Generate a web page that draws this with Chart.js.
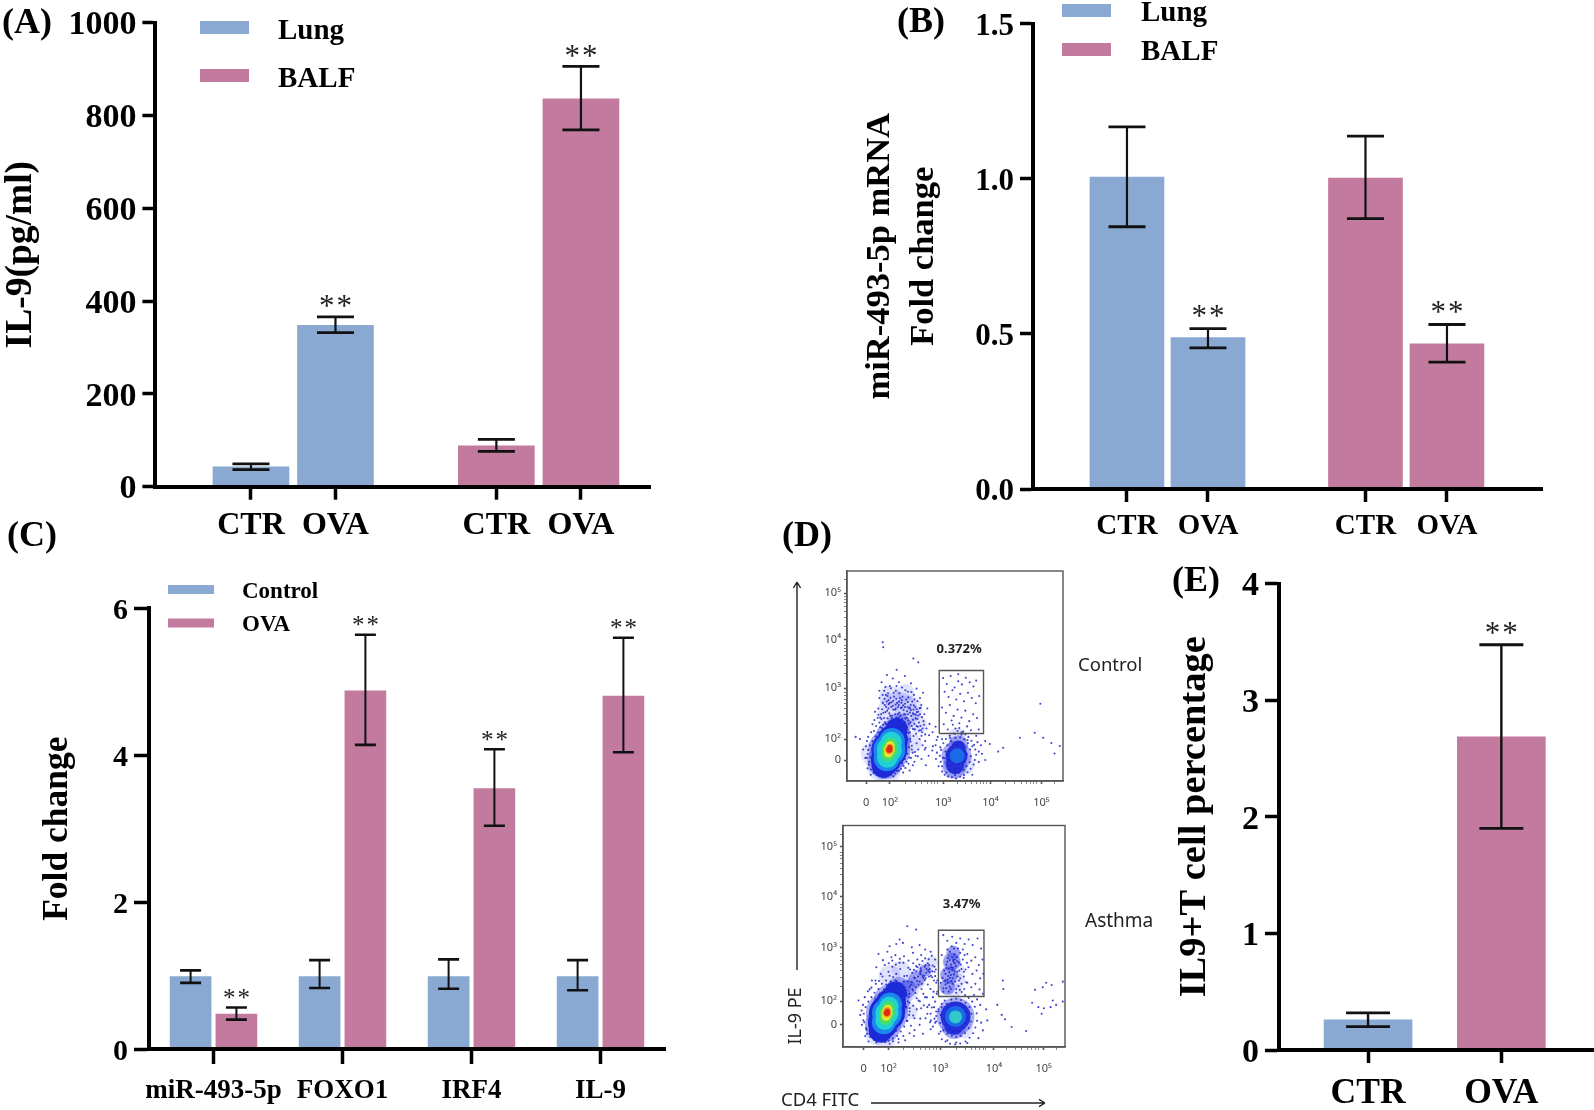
<!DOCTYPE html>
<html><head><meta charset="utf-8">
<script src="https://cdn.jsdelivr.net/npm/chart.js@4"></script>
<style>
html,body{margin:0;padding:0;background:#fff;overflow:hidden;height:1110px}
#wrap{position:relative;width:1594px;height:1110px;overflow:hidden;filter:blur(0.5px)}
canvas{position:absolute;left:0;top:0}
</style></head><body><div id="wrap">
<canvas id="a" width="1594" height="1200"></canvas>
<canvas id="b" width="1594" height="1200"></canvas>
<canvas id="c" width="1594" height="1200"></canvas>
<canvas id="d1" width="1594" height="1200"></canvas>
<canvas id="d2" width="1594" height="1200"></canvas>
<canvas id="e" width="1594" height="1200"></canvas>
</div>
<script>
/* ---------- data ---------- */
const groupLabels = ['CTR','OVA'];
// Panel A  IL-9 (pg/ml)
const aLung = [43,348],  aLungHigh = [49,366],  aLungLow = [37,332];
const aBalf = [88,836],  aBalfHigh = [102,906], aBalfLow = [76,769];
// Panel B  miR-493-5p
const bLung = [1.005,0.488], bLungHigh = [1.167,0.517], bLungLow = [0.845,0.455];
const bBalf = [1.002,0.468], bBalfHigh = [1.137,0.530], bBalfLow = [0.871,0.409];
// Panel C  Fold change
const cCategories = ['miR-493-5p','FOXO1','IRF4','IL-9'];
const cControl = [0.99,0.99,0.99,0.99], cControlHigh = [1.07,1.21,1.22,1.21], cControlLow = [0.90,0.83,0.82,0.80];
const cOva = [0.48,4.88,3.55,4.81],     cOvaHigh = [0.565,5.64,4.08,5.60],   cOvaLow = [0.40,4.14,3.04,4.04];
// Panel E  IL9+T cell percentage
const eValues = [0.258,2.685], eHigh = [0.318,3.475], eLow = [0.20,1.90];
// Panel D  flow cytometry, display channels 0-1000 on each axis
const dTickLabels = ['0','10²','10³','10⁴','10⁵'];
const d1XMajor = [89,199,445,664,900], d1YMajor = [99,199,442,673,894];
const d2XMajor = [93,205,437,680,904], d2YMajor = [102,207,447,680,905];
const dMinor = [273,316,347,371,390,407,421,511,550,577,598,616,631,644,735,777,806,830,849,865,879,960];
const d1GateX = [427,632,632,427,427], d1GateY = [226,226,526,526,226];
const d2GateX = [430,635,635,430,430], d2GateY = [228,228,527,527,228];
const d1Dots = [[165,661],[168,637],[307,583],[330,565],[230,530],[515,508],[895,368],[800,206],[869,230],[908,206],[946,181],[985,167],[961,131],[723,158],[661,176],[700,140],[620,170],[640,190],
[160,470],[172,430],[185,505],[198,452],[212,488],[226,430],[240,470],[255,445],[268,500],[282,425],[296,465],[310,410],[322,440],[338,395],[352,420],[150,395],[166,372],[180,410],[192,385],[205,352],[218,402],[232,372],[246,395],[260,360],[274,388],[288,345],[302,378],[316,352],[330,330],[344,362],[358,318],[372,345],[130,330],[145,345],[158,318],[172,300],[186,335],[200,310],[214,340],[228,302],[242,325],[256,296],[270,318],[284,288],[298,310],[312,272],[326,295],[340,262],[354,285],[368,250],[382,272],[396,232],[410,258],[345,215],[362,190],[380,218],[398,165],[415,195],[360,150],[378,120],[395,145],[412,105],[345,105],[365,75],[330,150],[318,120],[305,75],[290,50],[95,60],[85,110],[75,150],[92,190],[60,200],[110,30],[165,18],[215,22],[260,40],[40,210],
[445,490],[462,462],[480,500],[498,445],[515,475],[532,460],[550,492],[568,470],[585,450],[598,478],[452,425],[470,400],[488,432],[506,388],[524,415],[542,380],[560,420],[578,395],[596,370],[612,405],[440,350],[458,325],[476,362],[494,310],[512,340],[530,302],[548,335],[566,285],[584,318],[602,300],[448,270],[466,245],[484,288],[502,250],[520,275],[538,235],[556,260],[574,242],[610,245],[440,200],[432,160],[445,110],[440,70],[625,130],[610,90],[580,30],[540,15],[500,28],[460,40],[640,100]];
const d1DotsDense = [[142,300],[150,278],[163,342],[175,362],[188,298],[196,322],[207,375],[222,318],[236,352],[248,310],[262,338],[277,300],[291,326],[305,292],[319,316],[333,278],[347,304],[135,262],[127,290],[118,270],[154,256],[168,268],[181,352],[193,366],[211,292],[225,364],[239,288],[252,372],[266,282],[281,352],[294,280],[308,340],[322,262],[336,346],[350,250],[150,430],[165,410],[178,448],[190,418],[203,442],[216,420],[229,452],[243,418],[257,402],[270,432],[284,398],[298,424],[312,388],[326,380],[340,348],[174,392],[188,405],[201,396],[214,382],[228,392],[241,378],[254,384],[268,368],[281,376],[295,362],[309,360],[323,342],[250,250],[264,240],[278,258],[292,232],[306,248],[320,225],[334,240],[348,232],[362,222],[280,205],[294,188],[308,214],[322,180],[336,200],[350,170],[364,158],[300,150],[314,138],[328,118],[296,110],[312,92],[285,82],[270,62],[250,58],[232,48],[192,32],[175,42],[150,38],[130,50],[118,72],[103,92],[96,128],[88,165],[98,210],[112,232],[125,238],
[440,45],[452,30],[468,22],[486,18],[505,12],[524,20],[542,28],[558,42],[572,58],[586,78],[592,100],[598,125],[594,150],[588,172],[576,192],[562,210],[548,222],[530,232],[512,238],[494,226],[476,215],[458,200],[446,180],[436,148],[430,120],[434,92],[424,70],[416,135],[410,170],[420,210],[610,140],[604,185],[598,215],[520,252],[490,268],[468,70],[480,52],[498,44],[518,40],[540,52],[554,70],[568,90],[574,118],[570,150],[560,180],[544,198],[524,208],[502,205],[482,190],[465,170],[456,140],[452,108],[462,88]];
const d1DotsFringe = [[110,55],[123,38],[138,28],[158,24],[178,20],[205,30],[222,36],[240,50],[262,72],[276,92],[288,112],[304,135],[300,168],[292,200],[284,228],[268,265],[258,282],[232,298],[216,282],[198,268],[180,272],[162,252],[146,232],[132,212],[118,190],[106,170],[98,148],[92,110],[100,78],[108,112],[116,152],[125,180],[140,205],[152,225],[170,245],[190,250],[205,258],[228,272],[244,268],[258,250],[272,225],[282,195],[288,160],[280,130],[268,105],[255,85],[238,68],[218,52],[148,52],[130,72],[122,98],
[145,315],[160,295],[178,328],[192,345],[208,312],[222,340],[236,318],[250,348],[264,318],[278,332],[292,350],[305,322],[318,298],[330,312],[184,378],[198,372],[212,358],[226,345],[240,362],[254,350],[268,352],[282,318],[296,338],[310,318],[324,328],[338,318],[168,325],[154,302],[176,280],[208,300],[224,288],[240,302],[256,270],[270,298],[286,272],[300,262],[314,246],[328,258],[342,242],[356,268],
[470,100],[482,120],[494,88],[506,112],[518,85],[530,118],[542,92],[554,130],[546,160],[530,180],[510,170],[490,168],[476,145],[488,140],[520,145],[540,140],[500,60],[520,62],[482,75],[468,125],[478,205],[500,225],[530,220],[558,195],[580,165]];
const d2Dots = [[290,545],[330,530],[255,485],[210,455],[240,465],[270,470],[310,450],[345,460],[370,440],[395,430],[415,395],[160,420],[180,392],[200,430],[218,405],[236,415],[255,380],[275,410],[295,390],[315,425],[335,395],[352,415],[370,400],[388,370],[150,360],[170,330],[188,370],[205,340],[222,362],[240,330],[258,352],[276,320],[294,358],[312,335],[330,365],[348,340],[366,322],[384,345],[402,315],[130,300],[120,260],[148,285],[420,290],[412,340],[425,250],[405,225],[388,190],[370,225],[352,175],[340,210],[322,130],[345,100],[372,130],[395,150],[415,110],[430,170],[395,80],[360,60],[320,50],[280,30],[250,20],[210,15],[150,20],[100,50],[85,100],[78,145],[90,190],[70,210],[115,25],
[452,505],[470,480],[492,498],[510,470],[528,490],[548,465],[566,485],[584,460],[606,490],[622,445],[445,415],[560,420],[578,390],[596,405],[612,370],[628,395],[545,340],[565,360],[583,330],[602,345],[618,310],[632,330],[440,290],[452,265],[560,290],[578,270],[596,285],[615,260],[630,240],[590,235],[445,195],[430,160],[420,115],[440,70],[470,30],[510,20],[560,18],[610,40],[630,75],[650,120],[645,170],
[720,300],[722,262],[715,145],[730,125],[760,90],[825,72],[865,258],[852,200],[900,270],[915,290],[940,280],[945,210],[960,190],[935,180],[905,175],[880,180],[895,150],[990,295],[990,205],[695,190]];
const d2DotsDense = [[270,218],[284,242],[298,226],[312,262],[326,244],[340,282],[354,262],[368,302],[382,282],[396,322],[410,300],[278,270],[292,296],[306,280],[320,314],[334,298],[348,330],[362,312],[376,352],[390,338],[404,368],[418,350],[260,250],[274,296],[288,322],[302,350],[316,378],[330,342],[344,372],[358,388],[372,370],[386,396],[400,412],[300,200],[316,186],[332,220],[346,206],[362,240],[378,224],[394,262],[408,250],[422,240],[300,160],[316,142],[332,170],[348,128],[364,188],[380,150],[396,120],[410,180],[420,140],[290,118],[306,96],[322,76],[300,62],[272,50],[250,36],[225,26],[190,22],[165,30],[136,42],[120,60],[106,78],[92,120],[84,165],[98,225],[112,252],[128,268],[146,300],[162,298],[178,318],[194,300],[210,322],[226,316],[242,298],[206,378],[222,390],[238,372],[256,398],[272,380],
[452,250],[462,282],[448,312],[470,305],[456,345],[478,338],[466,372],[488,360],[472,402],[496,392],[482,430],[502,418],[510,245],[520,275],[505,295],[528,310],[515,340],[534,352],[522,382],[540,395],[528,425],[518,445],[500,445],[546,262],[555,292],[544,318],[552,350],[558,380],[548,415],[486,262],[494,285],[482,312],[500,328],[492,348],[508,365],[498,385],[512,405],[476,250],[535,248],[470,440],[490,455],[540,440],
[432,60],[445,35],[462,25],[482,15],[505,12],[528,16],[552,25],[570,42],[586,62],[596,88],[604,118],[602,152],[594,182],[582,205],[566,222],[550,235],[420,160],[412,128],[405,92],[415,205],[400,178],[392,112],[380,180],[604,215],[622,110],[618,190],[458,210],[445,180],[440,145],[438,108],[452,75],[470,60],[490,50],[510,45],[530,50],[550,62],[566,85],[576,115],[578,150],[570,180],[552,200],[532,212],[510,218],[488,214],[468,195]];
const d2DotsFringe = [[108,60],[122,45],[140,32],[158,26],[176,24],[205,28],[225,38],[244,50],[260,70],[276,92],[288,118],[298,145],[300,175],[292,205],[285,235],[275,262],[255,285],[235,300],[215,295],[195,282],[175,285],[160,262],[142,245],[128,225],[114,205],[102,180],[94,150],[96,112],[104,85],[118,110],[125,145],[132,185],[148,215],[165,240],[185,260],[205,270],[228,285],[250,268],[265,245],[278,215],[285,180],[272,135],[258,105],[238,72],[215,55],[148,52],[130,78],
[300,240],[315,255],[330,270],[345,295],[360,320],[375,335],[390,352],[310,292],[325,310],[338,318],[352,345],[368,362],[382,378],[300,272],[285,255],[355,285],[372,310],[388,318],[402,342],[412,362],[350,355],[335,360],[320,348],[415,320],[425,300],
[465,265],[472,290],[480,272],[488,298],[474,320],[486,325],[494,310],[502,342],[476,352],[486,372],[496,358],[504,378],[480,392],[492,405],[504,395],[516,318],[524,345],[530,372],[514,388],[522,300],[534,285],[510,262],[526,258],[460,300],[462,330],[466,355],[470,385],
[470,100],[482,82],[494,70],[510,72],[526,75],[542,88],[552,108],[558,130],[556,158],[546,180],[530,192],[510,196],[490,190],[476,172],[466,150],[460,125]];
// density cores: [x channel, y channel, radius], one list per colour level
const d1Core = {
  blue:  [[196,149,18],[212,197,15],[180,101,15],[230,248,11],[170,72,12]],
  mid:   [[196,149,16],[208,190,13],[184,108,13]],
  cyan:  [[196,149,12.5],[205,185,10.5],[187,113,10.5]],
  green: [[196,149,8.5],[203,172,7],[189,126,7]],
  yellow:[[196,149,5.5],[200,168,4.5],[192,133,4.5]],
  orange:[[196,149,4.2],[198,160,3.5]],
  red:   [[196,149,3],[199,160,2.4]]
};
const d2Core = {
  blue:  [[198,153,18],[216,198,15],[180,106,15],[236,246,11],[170,74,12]],
  mid:   [[198,153,15],[212,192,12],[184,112,12]],
  cyan:  [[198,153,11.5],[208,185,9.5],[188,120,9.5]],
  green: [[198,153,8],[205,178,6.5],[191,128,6.5]],
  yellow:[[198,153,5.5],[202,170,4.5],[194,138,4.5]],
  orange:[[198,153,4.2],[200,164,3.5]],
  red:   [[198,153,3],[200,162,2.4]]
};
const d1Fringe = [[196,149,21],[214,205,18],[178,95,18],[240,265,12],[507,120,15],[515,170,10],[500,70,12]];
const d2Fringe = [[198,153,21],[218,205,18],[180,100,18],[250,262,12],[507,138,19],[500,90,12],[478,325,9],[490,385,9],[470,270,8],[497,425,7],[290,262,9],[330,305,8],[370,345,6]];
const d1Haze = [[235,330,20],[285,340,14],[200,400,11],[270,420,9],[330,270,9],[150,60,12],[190,40,12],[120,130,12],[300,180,10],[507,210,9],[490,60,11],[540,80,11]];
const d2Haze = [[250,230,14],[290,262,12],[330,305,10],[370,345,8],[400,385,6],[210,320,11],[260,350,9],[300,160,8],[150,60,11],[190,40,11],[470,150,8],[545,80,9],[470,270,7],[478,325,8],[490,385,8],[497,430,6],[520,300,7],[510,350,8],[505,255,7]];
const d1Second = {outer:[[507,120,11],[515,160,7],[500,75,9]], inner:[[510,120,7.5]], core:[]};
const d2Second = {outer:[[507,138,15],[500,100,10]], inner:[[507,138,10.5]], core:[[507,136,6.5]]};

/* ---------- styles ---------- */
const BLUE='#8aa9d2', PINK='#c27a9e', SERIF='"Liberation Serif"', SANS='"Noto Sans"', CANVAS_H=1200, AXIS_H=90;
const coreColors={blue:'#1c2ad8',mid:'#1a86ee',cyan:'#22d2d2',green:'#42e06a',yellow:'#e8e32e',orange:'#f08a1e',red:'#e2281a'};
const fixScale=(k,v)=>s=>{s[k]=v;s.paddingLeft=s.paddingRight=s.paddingTop=s.paddingBottom=0;};
const padBottom=b=>CANVAS_H-b-AXIS_H;
function txt(ctx,t,x,y,font,align,color,base,spacing){ctx.save();ctx.font=font;ctx.textAlign=align||'left';ctx.textBaseline=base||'middle';ctx.fillStyle=color||'#000';if(spacing)ctx.letterSpacing=spacing+'px';ctx.fillText(t,x,y);ctx.restore();}
const decor={id:'decor',afterDraw(chart,_a,o){
  const ctx=chart.ctx,y=chart.scales.y;
  if(o.whisker){
    chart.data.datasets.forEach((ds,i)=>{
      chart.getDatasetMeta(i).data.forEach((el,j)=>{
        const hi=y.getPixelForValue(ds.errHigh[j]),lo=y.getPixelForValue(ds.errLow[j]);
        ctx.save();ctx.strokeStyle='#111';
        ctx.lineWidth=o.whisker.stem;ctx.beginPath();ctx.moveTo(el.x,hi);ctx.lineTo(el.x,lo);ctx.stroke();
        ctx.lineWidth=o.whisker.capW;ctx.beginPath();
        [hi,lo].forEach(p=>{ctx.moveTo(el.x-o.whisker.cap/2,p);ctx.lineTo(el.x+o.whisker.cap/2,p);});ctx.stroke();ctx.restore();
        if(ds.sig[j]){const sz=o.whisker.star;
          txt(ctx,'**',el.x+1,hi-o.whisker.starGap+sz*0.47,`${sz}px ${SERIF}`,'center','#222','alphabetic',2);}
      });
    });
  }
  if(o.legend){const L=o.legend;
    L.rows.forEach((r,i)=>{const ds=chart.data.datasets[i];
      ctx.fillStyle=ds.backgroundColor;ctx.fillRect(L.boxX,r-L.boxH/2,L.boxW,L.boxH);
      txt(ctx,ds.label,L.textX,r+L.dy,L.font);});
  }
  (o.texts||[]).forEach(t=>txt(ctx,t.t,t.x,t.y,t.font,t.align,t.color));
  if(o.frame){const a=chart.chartArea;ctx.save();ctx.strokeStyle='#555';ctx.lineWidth=1.4;ctx.strokeRect(a.left,a.top,a.right-a.left,a.bottom-a.top);ctx.restore();}
  if(o.gateLabel){const g=o.gateLabel;txt(ctx,g.t,chart.scales.x.getPixelForValue(g.x),y.getPixelForValue(g.y),`bold 13px ${SANS}`,'center','#222');}
  (o.arrows||[]).forEach(r=>{ctx.save();ctx.strokeStyle='#222';ctx.lineWidth=1.4;ctx.beginPath();ctx.moveTo(r[0],r[1]);ctx.lineTo(r[2],r[3]);
    const ang=Math.atan2(r[3]-r[1],r[2]-r[0]);
    [-2.6,2.6].forEach(d=>{ctx.moveTo(r[2],r[3]);ctx.lineTo(r[2]+7*Math.cos(ang+d),r[3]+7*Math.sin(ang+d));});
    ctx.stroke();ctx.restore();});
  if(o.rotText){const t=o.rotText;ctx.save();ctx.translate(t.x,t.y);ctx.rotate(-Math.PI/2);txt(ctx,t.t,0,0,t.font,'center','#222');ctx.restore();}
}};
Chart.register(decor);
Chart.defaults.animation=false;

function bar(label,slots,vals,hi,lo,sig,color,thick){
  return {label,data:vals.map((v,i)=>({x:slots[i],y:v})),errHigh:hi,errLow:lo,sig,backgroundColor:color,borderWidth:0,barThickness:thick,grouped:false};
}
function axisY(o){return {type:'linear',min:o.min,max:o.max,afterFit:fixScale('width',o.width),
  border:{color:'#000',width:o.bw||4,z:1},
  grid:{drawOnChartArea:false,drawTicks:true,tickLength:o.tl,tickWidth:3.5,tickColor:'#000',z:1},
  title:{display:true,text:o.title,color:'#000',padding:0,font:{family:SERIF,weight:'bold',size:o.titleSize,lineHeight:o.titleLH}},
  ticks:{stepSize:o.step,padding:o.pad||6,labelOffset:3,color:'#000',font:{family:SERIF,weight:'bold',size:o.font},callback:o.fmt||(v=>v)}};}
function axisXLinear(o){return {type:'linear',min:o.min,max:o.max,offset:false,afterFit:fixScale('height',AXIS_H),
  afterBuildTicks:s=>{s.ticks=o.slots.map(v=>({value:v}));},
  border:{color:'#000',width:o.bw||4,z:1},
  grid:{offset:false,drawOnChartArea:false,drawTicks:true,tickLength:13,tickWidth:3.5,tickColor:'#000',z:1},
  ticks:{autoSkip:false,maxRotation:0,padding:o.pad,color:'#000',font:{family:SERIF,weight:'bold',size:o.font},
    callback:(v,i)=>o.labels[i]}};}

/* Panel A */
const aSlots=[0,1,2.904,3.905];
new Chart('a',{type:'bar',data:{datasets:[
  bar('Lung',aSlots.slice(0,2),aLung,aLungHigh,aLungLow,[false,true],BLUE,76),
  bar('BALF',aSlots.slice(2),aBalf,aBalfHigh,aBalfLow,[false,true],PINK,76)]},
 options:{responsive:false,layout:{padding:{left:3,top:22.7,right:1594-651,bottom:padBottom(486.7)}},
  scales:{x:axisXLinear({min:-1.131,max:4.734,slots:aSlots,labels:[...groupLabels,...groupLabels],font:32,pad:7}),
    y:axisY({min:0,max:1000,step:200,width:152.4,tl:13,title:'IL-9(pg/ml)',titleSize:37.5,titleLH:1,font:34})},
  plugins:{legend:{display:false},tooltip:{enabled:false},decor:{
    whisker:{stem:2.2,capW:2.8,cap:37,star:31,starGap:15},
    legend:{boxX:200,boxW:49,boxH:13,textX:278,rows:[27.5,75.5],dy:4,font:`bold 29px ${SERIF}`},
    texts:[{t:'(A)',x:2,y:24,font:`bold 36px ${SERIF}`}]}}}});

/* Panel B */
const bSlots=[0,1,2.944,3.95];
new Chart('b',{type:'bar',data:{datasets:[
  bar('Lung',bSlots.slice(0,2),bLung,bLungHigh,bLungLow,[false,true],BLUE,74),
  bar('BALF',bSlots.slice(2),bBalf,bBalfHigh,bBalfLow,[false,true],PINK,74)]},
 options:{responsive:false,layout:{padding:{left:858.5,top:23.5,right:1594-1542,bottom:padBottom(489)}},
  scales:{x:axisXLinear({min:-1.16,max:5.123,slots:bSlots,labels:[...groupLabels,...groupLabels],font:29,pad:7}),
    y:axisY({min:0,max:1.5,step:0.5,width:1033-858.5,tl:13,title:['miR-493-5p mRNA','Fold change'],titleSize:34.5,titleLH:'43.5px',font:31,fmt:v=>v.toFixed(1)})},
  plugins:{legend:{display:false},tooltip:{enabled:false},decor:{
    whisker:{stem:2.2,capW:2.8,cap:37,star:31,starGap:17},
    legend:{boxX:1062,boxW:49,boxH:13,textX:1141,rows:[10.5,49.5],dy:3.5,font:`bold 29px ${SERIF}`},
    texts:[{t:'(B)',x:897,y:23,font:`bold 36px ${SERIF}`}]}}}});

/* Panel C */
new Chart('c',{type:'bar',data:{labels:cCategories,datasets:[
  {label:'Control',data:cControl,errHigh:cControlHigh,errLow:cControlLow,sig:[false,false,false,false],backgroundColor:BLUE,borderWidth:0,categoryPercentage:0.71,barPercentage:0.91},
  {label:'OVA',data:cOva,errHigh:cOvaHigh,errLow:cOvaLow,sig:[true,true,true,true],backgroundColor:PINK,borderWidth:0,categoryPercentage:0.71,barPercentage:0.91}]},
 options:{responsive:false,layout:{padding:{left:40,top:608.3,right:1594-665,bottom:padBottom(1049)}},
  scales:{x:{type:'category',afterFit:fixScale('height',AXIS_H),border:{color:'#000',width:4,z:1},
      grid:{offset:false,drawOnChartArea:false,drawTicks:true,tickLength:15,tickWidth:3.5,tickColor:'#000',z:1},
      ticks:{autoSkip:false,maxRotation:0,padding:11,color:'#000',font:{family:SERIF,weight:'bold',size:27}}},
    y:axisY({min:0,max:6,step:2,width:149-40,tl:15,title:'Fold change',titleSize:35.5,titleLH:1,font:30})},
  plugins:{legend:{display:false},tooltip:{enabled:false},decor:{
    whisker:{stem:2,capW:2.6,cap:21,star:25,starGap:13},
    legend:{boxX:168,boxW:46,boxH:9,textX:242,rows:[589.5,623],dy:2.5,font:`bold 23px ${SERIF}`},
    texts:[{t:'(C)',x:7,y:537,font:`bold 36px ${SERIF}`}]}}}});

/* Panel D */
function bubbles(label,pts,color){return {type:'bubble',label,data:pts.map(p=>({x:p[0],y:p[1],r:p[2]})),backgroundColor:color,borderWidth:0};}
function flow(id,area,xMaj,yMaj,dots,core,fringe,haze,second,gx,gy,deco){
  const sets=[];
  ['red','orange','yellow','green','cyan','mid','blue'].forEach(k=>sets.push(bubbles(k,core[k],coreColors[k])));
  if(second.core.length)sets.push(bubbles('second core',second.core,'#30c8c8'));
  sets.push(bubbles('second inner',second.inner,'#1a6ae8'));
  sets.push({type:'scatter',label:'gate',data:gx.map((v,i)=>({x:v,y:gy[i]})),showLine:true,borderColor:'#555',borderWidth:1.4,pointRadius:0,fill:false});
  sets.push({type:'scatter',label:'events',data:dots.map(p=>({x:p[0],y:p[1]})),backgroundColor:'rgba(30,35,205,0.85)',pointRadius:1.05,pointBorderWidth:0});
  sets.push(bubbles('second outer',second.outer,'#2430d8'));
  sets.push(bubbles('fringe',fringe,'rgba(50,60,225,0.42)'));
  sets.push(bubbles('tail',haze,'rgba(70,80,235,0.16)'));
  const lab=(maj)=>v=>{const i=maj.indexOf(v);return i>=0?dTickLabels[i]:'';};
  const tickStyle={drawOnChartArea:false,drawTicks:true,tickLength:3,color:'#555',tickWidth:c=>c.tick&&c.tick.label?1.6:0.7};
  new Chart(id,{type:'scatter',data:{datasets:sets},
   options:{responsive:false,layout:{padding:{left:area.l-40,top:area.t,right:1594-area.r,bottom:padBottom(area.b)}},
    scales:{x:{type:'linear',min:0,max:1000,afterFit:fixScale('height',AXIS_H),
       afterBuildTicks:s=>{s.ticks=[...xMaj,...dMinor].map(v=>({value:v}));},
       border:{color:'#555',width:1.4},grid:tickStyle,
       ticks:{autoSkip:false,maxRotation:0,padding:12,color:'#444',font:{family:SANS,size:11},callback:lab(xMaj)}},
      y:{type:'linear',min:0,max:1000,afterFit:fixScale('width',40),
       afterBuildTicks:s=>{s.ticks=[...yMaj,...dMinor].map(v=>({value:v}));},
       border:{color:'#555',width:1.4},grid:tickStyle,
       ticks:{autoSkip:false,padding:3,color:'#444',font:{family:SANS,size:11},callback:lab(yMaj)}}},
    plugins:{legend:{display:false},tooltip:{enabled:false},decor:deco}}});
}
flow('d1',{l:847,t:571,r:1063,b:781},d1XMajor,d1YMajor,[...d1Dots,...d1DotsDense,...d1DotsFringe],d1Core,d1Fringe,d1Haze,d1Second,d1GateX,d1GateY,
 {frame:true,gateLabel:{t:'0.372%',x:519,y:625},
  texts:[{t:'Control',x:1078,y:666,font:`18.5px ${SANS}`,color:'#222'},{t:'(D)',x:782,y:537,font:`bold 36px ${SERIF}`}]});
flow('d2',{l:843,t:825.5,r:1065,b:1047},d2XMajor,d2YMajor,[...d2Dots,...d2DotsDense,...d2DotsFringe],d2Core,d2Fringe,d2Haze,d2Second,d2GateX,d2GateY,
 {frame:true,gateLabel:{t:'3.47%',x:534,y:643},
  texts:[{t:'Asthma',x:1085,y:921.5,font:`19px ${SANS}`,color:'#222'},{t:'CD4 FITC',x:781,y:1101,font:`18.5px ${SANS}`,color:'#222'}],
  arrows:[[797,970,797,582],[871,1103,1045,1103]],
  rotText:{t:'IL-9 PE',x:796,y:1016,font:`18px ${SANS}`}});

/* Panel E */
const eSlots=[0,1];
new Chart('e',{type:'bar',data:{datasets:[
  {label:'CTR',data:[{x:eSlots[0],y:eValues[0]}],errHigh:[eHigh[0]],errLow:[eLow[0]],sig:[false],backgroundColor:BLUE,borderWidth:0,barThickness:88,grouped:false},
  {label:'OVA',data:[{x:eSlots[1],y:eValues[1]}],errHigh:[eHigh[1]],errLow:[eLow[1]],sig:[true],backgroundColor:PINK,borderWidth:0,barThickness:88,grouped:false}]},
 options:{responsive:false,layout:{padding:{left:1176,top:583.5,right:0,bottom:padBottom(1050)}},
  scales:{x:axisXLinear({min:-0.668,max:1.695,slots:eSlots,labels:groupLabels,font:35.5,pad:10}),
    y:axisY({min:0,max:4,step:1,width:1279-1176,tl:14,title:'IL9+T cell percentage',titleSize:38.5,titleLH:1,font:34})},
  plugins:{legend:{display:false},tooltip:{enabled:false},decor:{
    whisker:{stem:2.4,capW:2.8,cap:44,star:31,starGap:16},
    texts:[{t:'(E)',x:1172,y:581.5,font:`bold 36px ${SERIF}`}]}}}});
</script></body></html>
